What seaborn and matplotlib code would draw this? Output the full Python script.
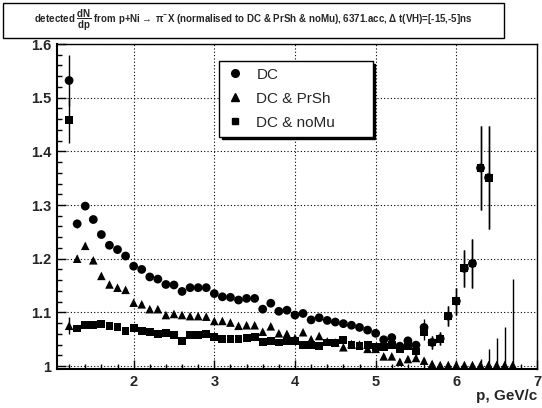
import numpy as np
import pandas as pd
import matplotlib
matplotlib.use("Agg")
import matplotlib.pyplot as plt
import seaborn as sns
from matplotlib.lines import Line2D
from matplotlib.patches import Rectangle
from matplotlib.ticker import MultipleLocator, FixedLocator, FuncFormatter

# ---------------- data ----------------
p_dc = [1.2, 1.3, 1.4, 1.5, 1.6, 1.7, 1.8, 1.9, 2.0, 2.1, 2.2, 2.3, 2.4, 2.5, 2.6, 2.7, 2.8, 2.9,
        3.0, 3.1, 3.2, 3.3, 3.4, 3.5, 3.6, 3.7, 3.8, 3.9, 4.0, 4.1, 4.2, 4.3, 4.4, 4.5, 4.6, 4.7,
        4.8, 4.9, 5.0, 5.1, 5.2, 5.3, 5.4, 5.5, 5.6, 5.7, 5.8, 5.9, 6.0, 6.1, 6.2, 6.3, 6.4]
dc = [1.532, 1.265, 1.298, 1.273, 1.245, 1.225, 1.217, 1.205, 1.186, 1.180, 1.166, 1.162, 1.152,
      1.151, 1.139, 1.146, 1.146, 1.146, 1.135, 1.129, 1.128, 1.123, 1.126, 1.126, 1.106, 1.117,
      1.102, 1.104, 1.095, 1.098, 1.086, 1.090, 1.085, 1.082, 1.079, 1.076, 1.072, 1.067, 1.061,
      1.049, 1.053, 1.037, 1.047, 1.039, 1.072, 1.044, 1.051, 1.093, 1.121, 1.182, 1.191, 1.369, 1.351]
dc_err = [0.048, 0.008, 0.005, 0.005, 0.004, 0.004, 0.004, 0.004, 0.004, 0.004, 0.004, 0.004, 0.004,
          0.004, 0.004, 0.004, 0.004, 0.004, 0.004, 0.004, 0.004, 0.004, 0.004, 0.004, 0.004, 0.004,
          0.004, 0.004, 0.004, 0.004, 0.004, 0.004, 0.004, 0.004, 0.004, 0.004, 0.004, 0.005, 0.005,
          0.005, 0.005, 0.006, 0.006, 0.006, 0.015, 0.012, 0.012, 0.018, 0.025, 0.034, 0.045, 0.078, 0.096]

p_nomu = p_dc
nomu = [1.458, 1.070, 1.076, 1.077, 1.078, 1.075, 1.073, 1.066, 1.071, 1.066, 1.063, 1.059, 1.061,
        1.058, 1.046, 1.058, 1.058, 1.060, 1.054, 1.050, 1.050, 1.051, 1.053, 1.054, 1.045, 1.046,
        1.044, 1.047, 1.047, 1.040, 1.040, 1.038, 1.044, 1.043, 1.048, 1.040, 1.038, 1.040, 1.036,
        1.036, 1.040, 1.032, 1.037, 1.027, 1.063, 1.044, 1.051, 1.093, 1.121, 1.182, 1.191, 1.369, 1.351]
nomu_err = [0.042, 0.004, 0.004, 0.004, 0.004, 0.004, 0.004, 0.004, 0.004, 0.004, 0.004, 0.004, 0.004,
            0.004, 0.004, 0.004, 0.004, 0.004, 0.004, 0.004, 0.004, 0.004, 0.004, 0.004, 0.004, 0.004,
            0.004, 0.004, 0.004, 0.004, 0.004, 0.004, 0.004, 0.004, 0.004, 0.004, 0.004, 0.005, 0.005,
            0.005, 0.005, 0.006, 0.006, 0.006, 0.015, 0.012, 0.012, 0.018, 0.025, 0.034, 0.045, 0.078, 0.096]

p_prsh = [1.2, 1.3, 1.4, 1.5, 1.6, 1.7, 1.8, 1.9, 2.0, 2.1, 2.2, 2.3, 2.4, 2.5, 2.6, 2.7, 2.8, 2.9,
          3.0, 3.1, 3.2, 3.3, 3.4, 3.5, 3.6, 3.7, 3.8, 3.9, 4.0, 4.1, 4.2, 4.3, 4.4, 4.5, 4.6, 4.7,
          4.8, 4.9, 5.0, 5.1, 5.2, 5.3, 5.4, 5.5, 5.6, 5.7, 5.8, 5.9, 6.0, 6.1, 6.2, 6.3, 6.4, 6.5,
          6.6, 6.7]
prsh = [1.075, 1.200, 1.224, 1.197, 1.168, 1.152, 1.146, 1.142, 1.118, 1.115, 1.106, 1.106, 1.095,
        1.097, 1.095, 1.093, 1.093, 1.092, 1.084, 1.084, 1.081, 1.075, 1.076, 1.076, 1.064, 1.074,
        1.061, 1.060, 1.052, 1.063, 1.050, 1.056, 1.046, 1.044, 1.035, 1.041, 1.040, 1.032, 1.032,
        1.018, 1.018, 1.008, 1.013, 1.015, 1.010, 1.004, 1.002, 1.002, 1.002, 1.002, 1.002, 1.002,
        1.002, 1.002, 1.002, 1.002]
prsh_err = [0.016, 0.006, 0.005, 0.005, 0.004, 0.004, 0.004, 0.004, 0.004, 0.004, 0.004, 0.004, 0.004,
            0.004, 0.004, 0.004, 0.004, 0.004, 0.004, 0.004, 0.004, 0.004, 0.004, 0.004, 0.004, 0.004,
            0.004, 0.004, 0.005, 0.004, 0.004, 0.004, 0.004, 0.004, 0.004, 0.004, 0.004, 0.004, 0.004,
            0.005, 0.005, 0.005, 0.005, 0.005, 0.005, 0.004, 0.003, 0.003, 0.003, 0.003, 0.003, 0.012,
            0.030, 0.050, 0.070, 0.160]

series_names = ["DC", "DC & PrSh", "DC & noMu"]
x_ticks = [2, 3, 4, 5, 6, 7]

title_text = (r"detected $\dfrac{\mathrm{dN}}{\mathrm{dp}}$ from p+Ni$\rightarrow$ $\pi^{-}$X "
              r"(normalised to DC & PrSh & noMu), 6371.acc, $\Delta$ t(VH)=[-15,-5]ns")
x_label = "p, GeV/c"

# ---------------- style ----------------
sns.set_theme(style="white")
plt.rcParams["font.family"] = ["Liberation Sans", "DejaVu Sans"]
plt.rcParams["mathtext.fontset"] = "custom"
plt.rcParams["mathtext.rm"] = "Liberation Sans:bold"
plt.rcParams["mathtext.it"] = "Liberation Sans:bold"
plt.rcParams["mathtext.bf"] = "Liberation Sans:bold"
plt.rcParams["mathtext.default"] = "rm"

W, H = 542, 408
fig = plt.figure(figsize=(W / 100, H / 100), dpi=100)
fig.patch.set_facecolor("white")
ax = fig.add_axes([57 / W, 1 - 369 / H, 480 / W, 325 / H])
ax.set_facecolor("white")

markers = {"DC": "o", "DC & PrSh": "^", "DC & noMu": "s"}
sizes = {"DC": 40, "DC & PrSh": 38, "DC & noMu": 32}
data = {"DC": (p_dc, dc, dc_err), "DC & PrSh": (p_prsh, prsh, prsh_err),
        "DC & noMu": (p_nomu, nomu, nomu_err)}

for name in series_names:
    px, py, pe = data[name]
    ax.errorbar(px, py, yerr=pe, fmt="none", ecolor="black", elinewidth=1.0, capsize=0, zorder=2)
    sns.scatterplot(x=px, y=py, marker=markers[name], s=sizes[name], color="black",
                    edgecolor="none", linewidth=0, ax=ax, zorder=3, legend=False)

ax.set_xlim(1.05, 7.0)
ax.set_ylim(0.9945, 1.6)
ax.xaxis.set_major_locator(FixedLocator(x_ticks))
ax.xaxis.set_minor_locator(MultipleLocator(0.2))
ax.yaxis.set_major_locator(MultipleLocator(0.1))
ax.yaxis.set_minor_locator(MultipleLocator(0.02))
ax.yaxis.set_major_formatter(FuncFormatter(lambda v, _: f"{v:g}"))
ax.xaxis.set_major_formatter(FuncFormatter(lambda v, _: f"{v:g}"))
ax.tick_params(which="major", direction="in", length=6.5, width=1, labelsize=10.5,
               bottom=True, left=True, top=False, right=False, pad=4, color="black")
ax.tick_params(which="minor", direction="in", length=3.5, width=1,
               bottom=True, left=True, top=False, right=False, color="black")
for lab in ax.get_xticklabels() + ax.get_yticklabels():
    lab.set_fontweight("bold")
ax.grid(True, which="major", color="black", linestyle=(0, (1, 2)), linewidth=0.8)
ax.set_axisbelow(True)
for s in ax.spines.values():
    s.set_visible(True)
    s.set_color("black")
    s.set_linewidth(1.0)
ax.spines["left"].set_linewidth(1.5)
ax.spines["bottom"].set_linewidth(1.5)
ax.set_xlabel("")
ax.set_ylabel("")

# legend
handles = [Line2D([], [], marker=markers[n], linestyle="none", color="black",
                  markersize={"DC": 5.5, "DC & PrSh": 5.5, "DC & noMu": 5}[n]) for n in series_names]
leg = ax.legend(handles, series_names, loc="upper left",
                bbox_to_anchor=(0.3375, 0.948, 0.32, 0.0), mode="expand",
                fontsize=11, frameon=True, fancybox=False,
                shadow={"color": "black", "alpha": 1.0, "ox": 2, "oy": -2},
                borderpad=0.45, labelspacing=0.65, handlelength=1.2, handletextpad=0.8,
                borderaxespad=0)
leg.get_frame().set_edgecolor("black")
leg.get_frame().set_linewidth(1.0)
leg.get_frame().set_facecolor("white")

# title box
fig.patches.append(Rectangle((3 / W, 1 - 38 / H), 501 / W, 35 / H, transform=fig.transFigure,
                             facecolor="white", edgecolor="black", linewidth=1.0, zorder=5))
fig.text(253 / W, 1 - 20.5 / H, title_text, ha="center", va="center", fontsize=7.0,
         fontweight="bold", zorder=6)

fig.text(537 / W, 1 - 396 / H, x_label, ha="right", va="center", fontsize=11, fontweight="bold")

fig.savefig("out.png", dpi=100)
